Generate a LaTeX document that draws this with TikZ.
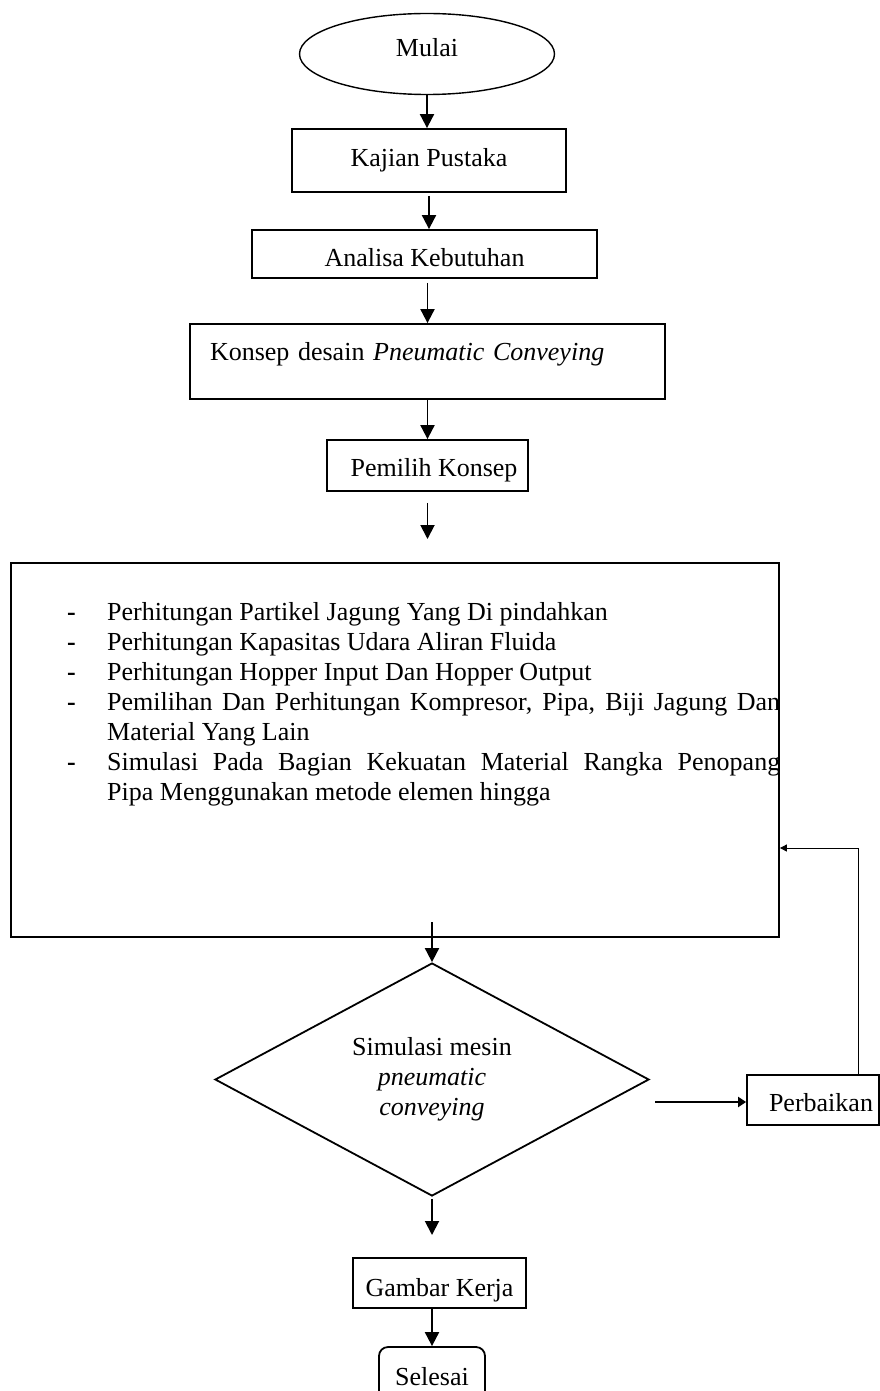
\documentclass[tikz,border=0pt]{standalone}
\usepackage{fontspec}
\setmainfont{Liberation Serif}
\usetikzlibrary{arrows.meta,shapes.geometric,calc}
\tikzset{
  every node/.style={font=\fontsize{26}{30}\selectfont},
  box/.style={draw, line width=1.8pt, inner sep=0pt, text height=17pt, text depth=0pt},
  flow/.style={line width=1.9pt, -{Triangle[length=14pt,width=14pt]}},
  sideflow/.style={line width=2.4pt, -{Triangle[length=8pt,width=10pt]}},
  thinflow/.style={line width=1pt, -{Triangle[length=7pt,width=7pt]}},
}
\begin{document}
\begin{tikzpicture}[x=1pt,y=-1pt]
\useasboundingbox (0,0) rectangle (880,1391);
\clip (0,0) rectangle (880,1391);

% nodes
\node[draw, ellipse, line width=1.4pt, minimum width=255pt, minimum height=81pt, inner sep=0pt,
      text height=17pt, text depth=12pt] (mulai) at (427,54) {Mulai};
\node[box, minimum width=274pt, minimum height=63pt, text depth=5pt] (kajian) at (429,160.5) {Kajian Pustaka};
\node[box, minimum width=345pt, minimum height=48pt, text height=25pt] (analisa) at (424.5,254) {Analisa Kebutuhan};
\node[box, minimum width=475pt, minimum height=75pt, text width=435pt, align=left, inner xsep=20pt,
      text depth=19pt] (konsep) at (427.5,361.5) {Konsep desain \textit{Pneumatic Conveying}};
\node[box, minimum width=201pt, minimum height=51pt, text height=22pt] (pemilih) at (427.5,465.5) {\hspace*{13pt}Pemilih Konsep};
\node[draw, line width=1.8pt, minimum width=768pt, minimum height=374pt, inner sep=0pt] (big) at (395,750) {};
\node[anchor=base west, inner sep=0pt] (list) at (67,620) {%
\begin{minipage}[t]{713pt}%
\fontsize{26}{30}\selectfont
\setlength{\parindent}{0pt}\leftskip=40pt\hyphenpenalty=10000\emergencystretch=20pt
\leavevmode\llap{\makebox[40pt][l]{\textbf{-}}}Perhitungan Partikel Jagung Yang Di pindahkan\par
\leavevmode\llap{\makebox[40pt][l]{\textbf{-}}}Perhitungan Kapasitas Udara Aliran Fluida\par
\leavevmode\llap{\makebox[40pt][l]{\textbf{-}}}Perhitungan Hopper Input Dan Hopper Output\par
\leavevmode\llap{\makebox[40pt][l]{\textbf{-}}}Pemilihan Dan Perhitungan Kompresor, Pipa, Biji Jagung Dan\linebreak Material Yang Lain\par
\leavevmode\llap{\makebox[40pt][l]{\textbf{-}}}Simulasi Pada Bagian Kekuatan Material Rangka Penopang\linebreak Pipa Menggunakan metode elemen hingga\par
\end{minipage}};
\node[draw, diamond, line width=1.8pt, aspect=1.86, minimum width=434pt, minimum height=233pt, inner sep=0pt]
      (diam) at (432,1079.5) {\raisebox{-5pt}{\setlength{\tabcolsep}{0pt}\begin{tabular}{c}Simulasi mesin\\\textit{pneumatic}\\\textit{conveying}\end{tabular}}};
\node[box, minimum width=132pt, minimum height=50pt, text height=23pt] (perb) at (813,1100) {\hspace*{16pt}Perbaikan};
\node[box, minimum width=173pt, minimum height=50pt, text height=27pt] (gambar) at (439.5,1283) {Gambar Kerja};
\node[draw, line width=1.8pt, rounded corners=9pt, minimum width=106pt, minimum height=70pt, inner sep=0pt,
      text height=17pt, text depth=10pt] (selesai) at (432,1382) {Selesai};

% free ends
\coordinate (e5) at (427.5,539);
\coordinate (s6) at (432,922);
\coordinate (s7) at (655,1102);
\coordinate (e9) at (432,1235);
\coordinate (fb) at (858,848);

% connectors
\draw[flow] (mulai.south) -- (mulai.south |- kajian.north);
\draw[flow] ([yshift=-3pt]kajian.south) -- (kajian.south |- analisa.north);
\draw[flow] ([yshift=-4pt]konsep.north |- analisa.south) -- (konsep.north);
\draw[flow] (konsep.south) -- (pemilih.north);
\draw[flow] ([yshift=-11pt]pemilih.south) -- (e5);
\draw[flow] (s6) -- (diam.north);
\draw[sideflow] (s7) -- (s7 -| perb.west);
\draw[thinflow] (fb |- perb.north) -- (fb) -- (fb -| big.east);
\draw[flow] ([yshift=-2pt]diam.south) -- (e9);
\draw[flow] (selesai.north |- gambar.south) -- (selesai.north);
\end{tikzpicture}
\end{document}
